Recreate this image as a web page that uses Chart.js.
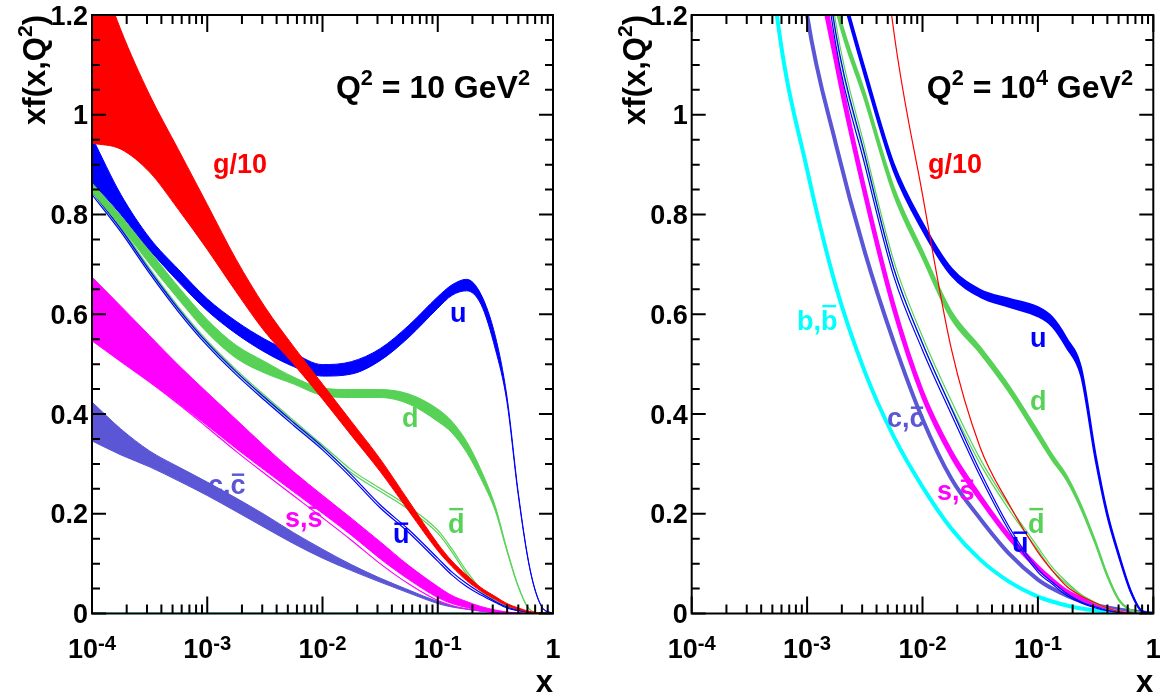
<!DOCTYPE html>
<html><head><meta charset="utf-8">
<script src="https://cdn.jsdelivr.net/npm/chart.js@4.4.1/dist/chart.umd.min.js"></script>
<style>
html,body{margin:0;padding:0;background:#fff;}
body{width:1165px;height:695px;overflow:hidden;position:relative;}
.p{position:absolute;top:0;height:695px;}
</style></head>
<body>
<div class="p" style="left:0;width:580px"><canvas id="c1" width="580" height="695"></canvas></div>
<div class="p" style="left:580px;width:585px"><canvas id="c2" width="585" height="695"></canvas></div>
<script>
// ---- x grid (momentum fraction) ----
const xValues = [0.0001, 0.000178, 0.000316, 0.000562, 0.001, 0.00178, 0.00316, 0.00562, 0.01, 0.0178, 0.0316, 0.0562, 0.1, 0.133, 0.178, 0.237, 0.316, 0.398, 0.501, 0.631, 0.794, 1];

// ---- Q^2 = 10 GeV^2 ----
const gluon10_hi = [1.33, 1.17, 1.04, 0.93, 0.82, 0.71, 0.615, 0.535, 0.46, 0.385, 0.31, 0.225, 0.14, 0.105, 0.077, 0.052, 0.034, 0.02, 0.011, 0.004, 0.001, 0];
const gluon10_lo = [0.943, 0.931, 0.885, 0.81, 0.73, 0.645, 0.565, 0.50, 0.43, 0.357, 0.285, 0.205, 0.126, 0.094, 0.066, 0.045, 0.028, 0.016, 0.008, 0.003, 0.0007, 0];
const up10_hi = [0.955, 0.84, 0.753, 0.69, 0.631, 0.586, 0.55, 0.522, 0.499, 0.505, 0.531, 0.578, 0.635, 0.659, 0.67, 0.64, 0.556, 0.436, 0.24, 0.09, 0.015, 0];
const up10_lo = [0.865, 0.80, 0.729, 0.665, 0.607, 0.561, 0.524, 0.495, 0.476, 0.48, 0.507, 0.554, 0.612, 0.638, 0.647, 0.62, 0.53, 0.425, 0.235, 0.088, 0.014, 0];
const down10_hi = [0.863, 0.797, 0.727, 0.655, 0.589, 0.538, 0.505, 0.474, 0.452, 0.449, 0.449, 0.44, 0.41, 0.385, 0.345, 0.288, 0.215, 0.13, 0.055, 0.008, 0.001, 0];
const down10_lo = [0.845, 0.776, 0.701, 0.63, 0.563, 0.512, 0.482, 0.46, 0.437, 0.433, 0.433, 0.42, 0.385, 0.362, 0.323, 0.27, 0.205, 0.125, 0.052, 0.007, 0.001, 0];
const ubar10_hi = [0.846, 0.771, 0.688, 0.611, 0.543, 0.485, 0.433, 0.383, 0.334, 0.278, 0.218, 0.168, 0.111, 0.083, 0.060, 0.041, 0.024, 0.013, 0.0065, 0.0022, 0.0006, 0];
const ubar10_lo = [0.840, 0.765, 0.682, 0.605, 0.537, 0.479, 0.427, 0.377, 0.328, 0.272, 0.212, 0.162, 0.105, 0.077, 0.054, 0.037, 0.022, 0.011, 0.0055, 0.0018, 0.0004, 0];
const dbar10_hi = [0.851, 0.775, 0.692, 0.615, 0.547, 0.489, 0.437, 0.387, 0.338, 0.288, 0.251, 0.214, 0.167, 0.129, 0.085, 0.049, 0.026, 0.015, 0.0065, 0.0022, 0.0006, 0];
const dbar10_lo = [0.845, 0.769, 0.686, 0.609, 0.541, 0.483, 0.431, 0.381, 0.332, 0.282, 0.245, 0.208, 0.161, 0.123, 0.079, 0.045, 0.024, 0.013, 0.0055, 0.0018, 0.0004, 0];
const strange10_hi = [0.6745, 0.616, 0.557, 0.498, 0.443, 0.389, 0.335, 0.284, 0.237, 0.191, 0.144, 0.096, 0.054, 0.036, 0.024, 0.014, 0.007, 0.003, 0.0013, 0.0004, 0.0001, 0];
const strange10_lo = [0.5475, 0.506, 0.465, 0.422, 0.377, 0.331, 0.287, 0.244, 0.201, 0.157, 0.110, 0.068, 0.032, 0.020, 0.012, 0.006, 0.003, 0.0015, 0.0007, 0.0002, 0, 0];
const sbar10_line = [0.5475, 0.505, 0.464, 0.420, 0.373, 0.325, 0.280, 0.236, 0.192, 0.147, 0.100, 0.059, 0.026, 0.016, 0.009, 0.005, 0.002, 0.001, 0.0004, 0.0001, 0, 0];
const charm10_hi = [0.424, 0.370, 0.326, 0.294, 0.2635, 0.2315, 0.198, 0.162, 0.129, 0.098, 0.071, 0.047, 0.024, 0.015, 0.0095, 0.0053, 0.0026, 0.001, 0.0003, 0.0001, 0, 0];
const charm10_lo = [0.346, 0.318, 0.294, 0.266, 0.2365, 0.2045, 0.172, 0.140, 0.111, 0.086, 0.063, 0.041, 0.020, 0.013, 0.0085, 0.0047, 0.0024, 0.001, 0.0003, 0.0001, 0, 0];
const bottom10 = [0, 0, 0, 0, 0, 0, 0, 0, 0, 0, 0, 0, 0, 0, 0, 0, 0, 0, 0, 0, 0, 0];

// ---- Q^2 = 10^4 GeV^2 ----
const gluon1e4 = [30, 20, 12, 7, 4.2, 2.6, 1.7, 1.17, 0.84, 0.53, 0.333, 0.219, 0.123, 0.086, 0.054, 0.035, 0.021, 0.011, 0.004, 0.001, 0.0002, 0];
const up1e4_hi = [5.01, 3.81, 2.81, 2.01, 1.51, 1.297, 1.092, 0.902, 0.783, 0.692, 0.649, 0.631, 0.614, 0.594, 0.551, 0.492, 0.318, 0.203, 0.12, 0.048, 0.005, 0];
const up1e4_lo = [4.99, 3.79, 2.79, 1.99, 1.49, 1.283, 1.078, 0.888, 0.769, 0.678, 0.635, 0.615, 0.596, 0.576, 0.533, 0.476, 0.308, 0.197, 0.116, 0.046, 0.005, 0];
const down1e4_hi = [5.51, 4.21, 3.11, 2.21, 1.56, 1.228, 1.044, 0.855, 0.727, 0.605, 0.534, 0.456, 0.365, 0.318, 0.275, 0.216, 0.143, 0.078, 0.0285, 0.0072, 0.001, 0];
const down1e4_lo = [5.49, 4.19, 3.09, 2.19, 1.54, 1.212, 1.03, 0.841, 0.713, 0.591, 0.522, 0.444, 0.353, 0.308, 0.267, 0.21, 0.139, 0.076, 0.0275, 0.0068, 0.001, 0];
const ubar1e4_hi = [6.03, 4.53, 3.32, 2.32, 1.615, 1.162, 0.92, 0.693, 0.542, 0.411, 0.285, 0.174, 0.089, 0.063, 0.04, 0.023, 0.013, 0.0065, 0.0028, 0.0008, 0.0001, 0];
const ubar1e4_lo = [5.97, 4.47, 3.28, 2.28, 1.585, 1.138, 0.9, 0.677, 0.528, 0.399, 0.275, 0.166, 0.083, 0.059, 0.036, 0.021, 0.011, 0.0055, 0.0022, 0.0006, 0.0001, 0];
const dbar1e4_hi = [6.13, 4.63, 3.37, 2.37, 1.645, 1.182, 0.935, 0.708, 0.555, 0.426, 0.31, 0.216, 0.133, 0.093, 0.063, 0.038, 0.022, 0.0115, 0.0053, 0.0017, 0.0003, 0];
const dbar1e4_lo = [6.07, 4.57, 3.33, 2.33, 1.615, 1.158, 0.915, 0.692, 0.541, 0.414, 0.3, 0.208, 0.127, 0.087, 0.059, 0.036, 0.02, 0.0105, 0.0047, 0.0013, 0.0003, 0];
const strange1e4_hi = [5.55, 4.25, 3.14, 2.13, 1.47, 1.125, 0.857, 0.625, 0.448, 0.327, 0.238, 0.159, 0.096, 0.07, 0.047, 0.032, 0.019, 0.012, 0.0055, 0.0022, 0.0006, 0];
const strange1e4_lo = [5.45, 4.15, 3.06, 2.07, 1.43, 1.095, 0.833, 0.605, 0.432, 0.313, 0.226, 0.149, 0.088, 0.064, 0.043, 0.028, 0.017, 0.01, 0.0045, 0.0018, 0.0004, 0];
const charm1e4 = [4.5, 3.4, 2.4, 1.68, 1.2, 0.94, 0.725, 0.545, 0.39, 0.27, 0.19, 0.12, 0.068, 0.05, 0.036, 0.025, 0.017, 0.012, 0.008, 0.005, 0.002, 0];
const bottom1e4 = [3.2, 2.4, 1.75, 1.18, 0.89, 0.655, 0.485, 0.355, 0.254, 0.170, 0.108, 0.064, 0.034, 0.024, 0.016, 0.010, 0.006, 0.004, 0.002, 0.001, 0.0003, 0];

// ---- axis ticks ----
const xMajorTicks = [0.0001, 0.001, 0.01, 0.1, 1];
const xTickLabels = [['10', '-4'], ['10', '-3'], ['10', '-2'], ['10', '-1'], ['1', '']];
const yMajorTicks = [0, 0.2, 0.4, 0.6, 0.8, 1, 1.2];
const yTickLabels = ['0', '0.2', '0.4', '0.6', '0.8', '1', '1.2'];

const RED = '#ff0000', BLUE = '#0000ff', GREEN = '#57d257', MAG = '#ff00ff', PURP = '#5b56d6', CYAN = '#00ffff';
const FONT = "'Liberation Sans', Arial, Helvetica, sans-serif";

function pts(arr) { return xValues.map((x, i) => ({ x: x, y: arr[i] })); }
function band(hi, lo, color, bw) {
  return [
    { data: pts(hi), borderColor: color, backgroundColor: color, borderWidth: bw, fill: '+1' },
    { data: pts(lo), borderColor: color, backgroundColor: color, borderWidth: bw, fill: false }
  ];
}
function line(arr, color, w) {
  return { data: pts(arr), borderColor: color, backgroundColor: color, borderWidth: w, fill: false };
}

function drawRich(ctx, segs, x, y, size, align, color, supScale, supRaise) {
  supScale = supScale || 0.68; supRaise = supRaise || 0.42;
  const f = s => 'bold ' + s + 'px ' + FONT;
  const widths = segs.map(sg => { ctx.font = f(sg.sup ? size * supScale : size); return ctx.measureText(sg.t).width; });
  const total = widths.reduce((a, b) => a + b, 0);
  let cx = align === 'right' ? x - total : (align === 'center' ? x - total / 2 : x);
  ctx.fillStyle = color; ctx.textAlign = 'left'; ctx.textBaseline = 'alphabetic';
  segs.forEach((sg, i) => {
    const s = sg.sup ? size * supScale : size;
    ctx.font = f(s);
    const yy = sg.sup ? y - size * supRaise : y;
    ctx.fillText(sg.t, cx, yy);
    if (sg.bar) {
      const by = yy - (sg.bar === 'high' ? 0.93 : 0.76) * s;
      ctx.fillRect(cx + 0.05 * s, by, widths[i] - 0.1 * s, 0.09 * s);
    }
    cx += widths[i];
  });
}

function makeFrame(cfg) {
  return {
    id: 'frame',
    afterDatasetsDraw(chart) {
      const ctx = chart.ctx;
      const a = chart.chartArea;
      const xs = chart.scales.x, ys = chart.scales.y;
      ctx.save();
      ctx.strokeStyle = '#000'; ctx.lineWidth = 2; ctx.lineCap = 'butt';
      ctx.beginPath();
      for (let d = 0; d < xMajorTicks.length; d++) {
        const v = xMajorTicks[d];
        const px = xs.getPixelForValue(v);
        ctx.moveTo(px, a.bottom); ctx.lineTo(px, a.bottom - 17);
        ctx.moveTo(px, a.top); ctx.lineTo(px, a.top + 17);
        if (d < xMajorTicks.length - 1) {
          for (let k = 2; k <= 9; k++) {
            const mx = xs.getPixelForValue(v * k);
            ctx.moveTo(mx, a.bottom); ctx.lineTo(mx, a.bottom - 9);
            ctx.moveTo(mx, a.top); ctx.lineTo(mx, a.top + 9);
          }
        }
      }
      for (let i = 0; i <= 24; i++) {
        const v = i * 0.05;
        const py = ys.getPixelForValue(v);
        const len = (i % 4 === 0) ? 14 : 8;
        ctx.moveTo(a.left, py); ctx.lineTo(a.left + len, py);
        ctx.moveTo(a.right, py); ctx.lineTo(a.right - len, py);
      }
      ctx.stroke();
      ctx.strokeRect(a.left, a.top, a.right - a.left, a.bottom - a.top);

      ctx.fillStyle = '#000'; ctx.font = 'bold 27px ' + FONT; ctx.textAlign = 'right'; ctx.textBaseline = 'alphabetic';
      yMajorTicks.forEach((v, i) => {
        ctx.fillText(yTickLabels[i], a.left - 4, ys.getPixelForValue(v) + 9.5);
      });
      xMajorTicks.forEach((v, i) => {
        const lab = xTickLabels[i];
        const segs = [{ t: lab[0] }];
        if (lab[1]) segs.push({ t: lab[1], sup: true });
        drawRich(ctx, segs, xs.getPixelForValue(v), 658, 27, 'center', '#000', 0.75, 0.3);
      });
      drawRich(ctx, [{ t: 'x' }], a.right, 692, 31, 'right', '#000');
      ctx.save();
      ctx.translate(a.left - 47, a.top);
      ctx.rotate(-Math.PI / 2);
      drawRich(ctx, [{ t: 'xf(x,Q' }, { t: '2', sup: true }, { t: ')' }], 0, 0, 31, 'right', '#000');
      ctx.restore();
      cfg.labels.forEach(l => drawRich(ctx, l.segs, l.x - cfg.offset, l.y, l.size || 27, l.align || 'left', l.color));
      ctx.restore();
    }
  };
}

const common = {
  pointRadius: 0, pointHoverRadius: 0, cubicInterpolationMode: 'monotone', clip: 0
};

function makeChart(id, datasets, padding, cfg) {
  datasets.forEach(d => Object.assign(d, common));
  return new Chart(document.getElementById(id), {
    type: 'line',
    data: { datasets: datasets },
    options: {
      responsive: false, animation: false, devicePixelRatio: 1, events: [],
      layout: { padding: padding },
      plugins: { legend: { display: false }, tooltip: { enabled: false }, title: { display: false } },
      scales: {
        x: { type: 'logarithmic', min: 0.0001, max: 1, display: false },
        y: { type: 'linear', min: 0, max: 1.2, display: false }
      }
    },
    plugins: [makeFrame(cfg)]
  });
}

const ds1 = [].concat(
  band(gluon10_hi, gluon10_lo, RED, 1),
  band(up10_hi, up10_lo, BLUE, 1),
  band(down10_hi, down10_lo, GREEN, 1),
  [line(ubar10_hi, BLUE, 1.2), line(ubar10_lo, BLUE, 1.2)],
  [line(dbar10_hi, GREEN, 1.2), line(dbar10_lo, GREEN, 1.2)],
  band(strange10_hi, strange10_lo, MAG, 1),
  [line(sbar10_line, MAG, 1.2)],
  band(charm10_hi, charm10_lo, PURP, 1),
  [line(bottom10, CYAN, 2)]
);
const labels1 = [
  { segs: [{ t: 'Q' }, { t: '2', sup: true }, { t: ' = 10 GeV' }, { t: '2', sup: true }], x: 530, y: 98, size: 32, align: 'right', color: '#000' },
  { segs: [{ t: 'g/10' }], x: 213, y: 173, color: RED },
  { segs: [{ t: 'u' }], x: 450, y: 322, color: BLUE },
  { segs: [{ t: 'd' }], x: 402, y: 427, color: GREEN },
  { segs: [{ t: 'd', bar: 'high' }], x: 448, y: 533, color: GREEN },
  { segs: [{ t: 'u', bar: 'low' }], x: 393, y: 543, color: BLUE },
  { segs: [{ t: 's,' }, { t: 's', bar: 'low' }], x: 285, y: 527, color: MAG },
  { segs: [{ t: 'c,' }, { t: 'c', bar: 'low' }], x: 208, y: 494, color: PURP }
];
makeChart('c1', ds1, { left: 92, right: 27, top: 15, bottom: 81.5 }, { offset: 0, labels: labels1 });

const ds2 = [].concat(
  [line(gluon1e4, RED, 1.2)],
  band(up1e4_hi, up1e4_lo, BLUE, 2),
  band(down1e4_hi, down1e4_lo, GREEN, 2),
  [line(ubar1e4_hi, BLUE, 1.2), line(ubar1e4_lo, BLUE, 1.2)],
  [line(dbar1e4_hi, GREEN, 1.2), line(dbar1e4_lo, GREEN, 1.2)],
  band(strange1e4_hi, strange1e4_lo, MAG, 2),
  [line(charm1e4, PURP, 4)],
  [line(bottom1e4, CYAN, 4)]
);
const labels2 = [
  { segs: [{ t: 'Q' }, { t: '2', sup: true }, { t: ' = 10' }, { t: '4', sup: true }, { t: ' GeV' }, { t: '2', sup: true }], x: 1133, y: 98, size: 32, align: 'right', color: '#000' },
  { segs: [{ t: 'g/10' }], x: 928, y: 173, color: RED },
  { segs: [{ t: 'u' }], x: 1030, y: 347, color: BLUE },
  { segs: [{ t: 'd' }], x: 1030, y: 410, color: GREEN },
  { segs: [{ t: 'b,' }, { t: 'b', bar: 'high' }], x: 797, y: 330, color: CYAN },
  { segs: [{ t: 'c,' }, { t: 'c', bar: 'low' }], x: 887, y: 427, color: PURP },
  { segs: [{ t: 's,' }, { t: 's', bar: 'low' }], x: 937, y: 500, color: MAG },
  { segs: [{ t: 'd', bar: 'high' }], x: 1028, y: 533, color: GREEN },
  { segs: [{ t: 'u', bar: 'low' }], x: 1012, y: 552, color: BLUE }
];
makeChart('c2', ds2, { left: 111.7, right: 11.7, top: 15, bottom: 81.5 }, { offset: 580, labels: labels2 });
</script>
</body></html>
